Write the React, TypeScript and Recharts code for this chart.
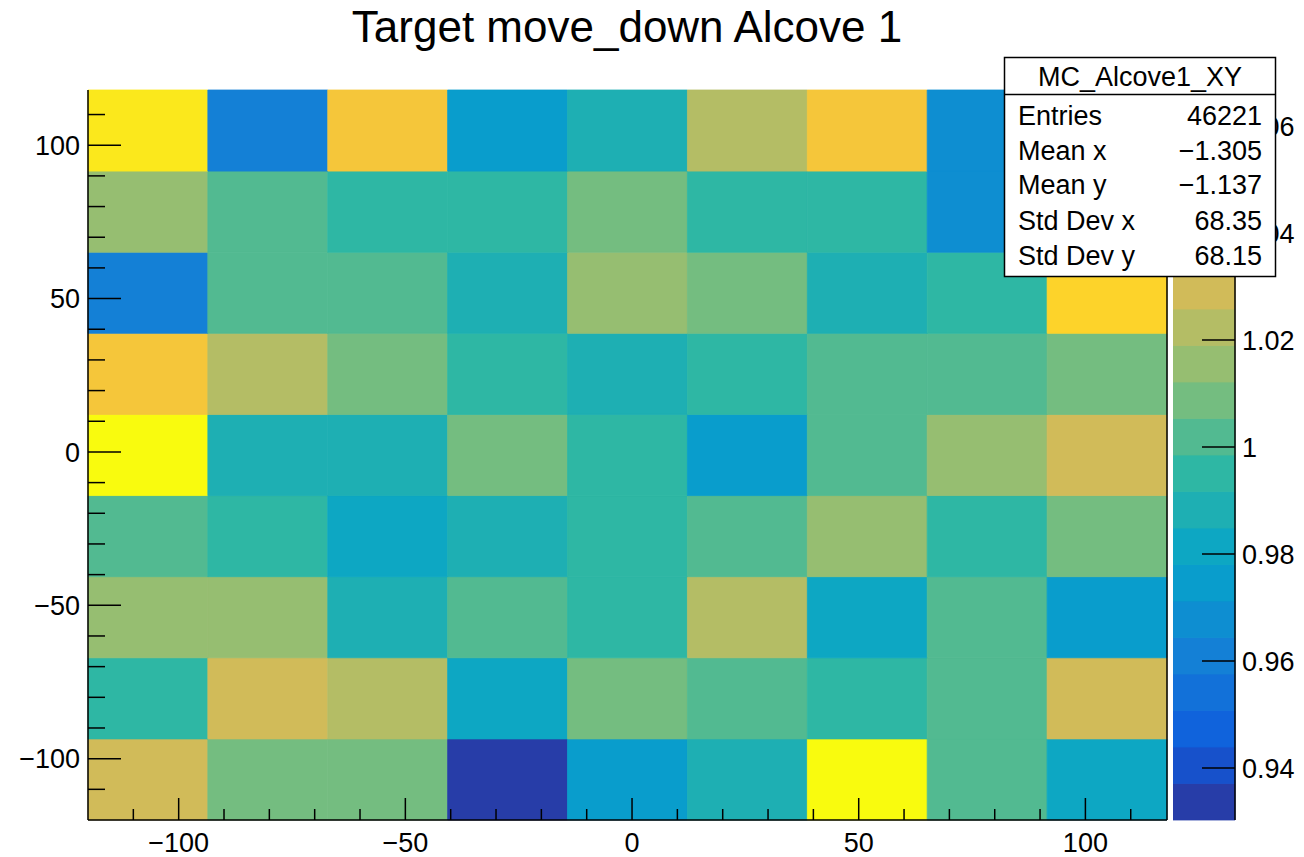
import React from "react";
import { ScatterChart, Scatter, XAxis, YAxis, ReferenceArea, ReferenceLine } from "recharts";

// bin edges (9 x 9 bins)
const xEdges = [-120, -93.56, -67.11, -40.67, -14.22, 12.22, 38.67, 65.11, 91.56, 118];
const yEdges = [-120, -93.56, -67.11, -40.67, -14.22, 12.22, 38.67, 65.11, 91.56, 118];

// bin contents, one array per y bin, bottom row first
const yBin1 = [1.029, 1.009, 1.009, 0.9303, 0.975, 0.988, 1.063, 1.002, 0.981];
const yBin2 = [0.995, 1.029, 1.022, 0.981, 1.009, 1.002, 0.995, 1.002, 1.029];
const yBin3 = [1.016, 1.015, 0.988, 1.002, 0.995, 1.022, 0.981, 1.001, 0.975];
const yBin4 = [1.002, 0.995, 0.981, 0.988, 0.996, 1.002, 1.016, 0.995, 1.009];
const yBin5 = [1.0667, 0.988, 0.989, 1.009, 0.995, 0.975, 1.002, 1.016, 1.029];
const yBin6 = [1.043, 1.022, 1.009, 0.995, 0.988, 0.996, 1.002, 1.001, 1.01];
const yBin7 = [0.961, 1.002, 1.001, 0.988, 1.016, 1.009, 0.987, 0.995, 1.05];
const yBin8 = [1.016, 1.002, 0.995, 0.994, 1.009, 0.996, 0.995, 0.969, 1.003];
const yBin9 = [1.056, 0.961, 1.043, 0.975, 0.988, 1.022, 1.044, 0.968, 0.996];
const rows = [yBin1, yBin2, yBin3, yBin4, yBin5, yBin6, yBin7, yBin8, yBin9];

const xTicks = [-110, -100, -90, -80, -70, -60, -50, -40, -30, -20, -10, 0, 10, 20, 30, 40, 50, 60, 70, 80, 90, 100, 110];
const yTicks = [-110, -100, -90, -80, -70, -60, -50, -40, -30, -20, -10, 0, 10, 20, 30, 40, 50, 60, 70, 80, 90, 100, 110];
const zTicks = [0.94, 0.96, 0.98, 1, 1.02, 1.04, 1.06];

const statLabels = ["Entries", "Mean x", "Mean y", "Std Dev x", "Std Dev y"];
const statValues = ["46221", "\u22121.305", "\u22121.137", "68.35", "68.15"];

// ROOT kBird palette
const birdR = [0.2082, 0.0592, 0.078, 0.0232, 0.1802, 0.5301, 0.8186, 0.9956, 0.9764];
const birdG = [0.1664, 0.3599, 0.5041, 0.6419, 0.7178, 0.7492, 0.7328, 0.7862, 0.9832];
const birdB = [0.5293, 0.8684, 0.8385, 0.7914, 0.6425, 0.4662, 0.3499, 0.1968, 0.0539];
const NCONT = 20;

const FONT = "'Liberation Sans', Arial, Helvetica, sans-serif";

function bird(t: number) {
  const p = Math.max(0, Math.min(1, t)) * 8;
  const i = Math.min(7, Math.floor(p));
  const f = p - i;
  const c = (a: number[]) => Math.round(255 * (a[i] + (a[i + 1] - a[i]) * f));
  return `rgb(${c(birdR)},${c(birdG)},${c(birdB)})`;
}

function levelColor(level: number) {
  const k = Math.min(254, Math.floor(0.01 + ((level + 0.99) * 255) / NCONT));
  return bird(k / 254);
}

const allValues = rows.flat();
const zMin = Math.min(...allValues);
const zMax = Math.max(...allValues);

function cellColor(v: number) {
  const lv = Math.floor(((v - zMin) / (zMax - zMin)) * NCONT);
  return levelColor(Math.max(0, Math.min(NCONT - 1, lv)));
}

const cells = rows.flatMap((row, j) =>
  row.map((v, i) => ({
    x: (xEdges[i] + xEdges[i + 1]) / 2,
    y: (yEdges[j] + yEdges[j + 1]) / 2,
    x1: xEdges[i],
    x2: xEdges[i + 1],
    y1: yEdges[j],
    y2: yEdges[j + 1],
    v,
  }))
);

const bands = Array.from({ length: NCONT }, (_, i) => ({
  y1: zMin + ((zMax - zMin) * i) / NCONT,
  y2: zMin + ((zMax - zMin) * (i + 1)) / NCONT,
  color: levelColor(i),
}));

const fmt = (v: number) => (v < 0 ? `\u2212${Math.abs(v)}` : `${v}`);

const XTick = (props: any) => {
  const { x, y, payload } = props;
  const major = payload.value % 50 === 0;
  return (
    <g>
      <line x1={x} x2={x} y1={y} y2={y - (major ? 22 : 11)} stroke="#000" strokeWidth={1.5} />
      {major && (
        <text x={x} y={y + 32} textAnchor="middle" fontSize={27} fontFamily={FONT} fill="#000">
          {fmt(payload.value)}
        </text>
      )}
    </g>
  );
};

const YTick = (props: any) => {
  const { x, y, payload } = props;
  const major = payload.value % 50 === 0;
  return (
    <g>
      <line x1={x} x2={x + (major ? 33 : 17)} y1={y} y2={y} stroke="#000" strokeWidth={1.5} />
      {major && (
        <text x={x - 8} y={y} dy="0.36em" textAnchor="end" fontSize={27} fontFamily={FONT} fill="#000">
          {fmt(payload.value)}
        </text>
      )}
    </g>
  );
};

const ZTick = (props: any) => {
  const { x, y, payload } = props;
  return (
    <g>
      <line x1={x - 33} x2={x} y1={y} y2={y} stroke="#000" strokeWidth={1.5} />
      <text x={x + 7} y={y} dy="0.36em" textAnchor="start" fontSize={27} fontFamily={FONT} fill="#000">
        {String(payload.value)}
      </text>
    </g>
  );
};

const statBaselines = [125, 160, 194, 230, 265];

export default function App() {
  return (
    <div style={{ position: "absolute", left: 0, top: 0, width: 1304, height: 857, background: "#fff" }}>
      <div style={{ position: "absolute", left: 0, top: 0 }}>
        <ScatterChart width={1304} height={857} margin={{ top: 90, right: 137, bottom: 0, left: 28 }}>
          <XAxis
            type="number"
            dataKey="x"
            domain={[-120, 118]}
            ticks={xTicks}
            interval={0}
            height={37}
            tickSize={0}
            tickMargin={0}
            tickLine={false}
            axisLine={{ stroke: "#000", strokeWidth: 1.5 }}
            tick={<XTick />}
            allowDataOverflow
          />
          <YAxis
            type="number"
            dataKey="y"
            domain={[-120, 118]}
            ticks={yTicks}
            interval={0}
            width={60}
            tickSize={0}
            tickMargin={0}
            tickLine={false}
            axisLine={{ stroke: "#000", strokeWidth: 1.5 }}
            tick={<YTick />}
            allowDataOverflow
          />
          {cells.map((c, k) => (
            <ReferenceArea
              key={k}
              x1={c.x1}
              x2={c.x2}
              y1={c.y1}
              y2={c.y2}
              fill={cellColor(c.v)}
              fillOpacity={1}
              stroke={cellColor(c.v)}
              strokeWidth={0.8}
              ifOverflow="visible"
            />
          ))}
          <ReferenceLine x={118} stroke="#000" strokeWidth={1.5} ifOverflow="visible" />
          <Scatter data={cells} isAnimationActive={false} shape={() => <g />} />
        </ScatterChart>
      </div>
      <div style={{ position: "absolute", left: 1173, top: 0 }}>
        <ScatterChart width={131} height={857} margin={{ top: 90, right: 0, bottom: 37, left: 0 }}>
          <XAxis type="number" dataKey="x" domain={[0, 1]} hide />
          <YAxis
            type="number"
            dataKey="y"
            orientation="right"
            domain={[zMin, zMax]}
            ticks={zTicks}
            interval={0}
            width={69}
            tickSize={0}
            tickMargin={0}
            tickLine={false}
            axisLine={{ stroke: "#000", strokeWidth: 1.5 }}
            tick={<ZTick />}
            allowDataOverflow
          />
          {bands.map((b, k) => (
            <ReferenceArea
              key={k}
              x1={0}
              x2={1}
              y1={b.y1}
              y2={b.y2}
              fill={b.color}
              fillOpacity={1}
              stroke={b.color}
              strokeWidth={0.8}
              ifOverflow="visible"
            />
          ))}
          <Scatter
            data={bands.map((b) => ({ x: 0.5, y: (b.y1 + b.y2) / 2 }))}
            isAnimationActive={false}
            shape={() => <g />}
          />
        </ScatterChart>
      </div>
      <svg
        width={1304}
        height={857}
        style={{ position: "absolute", left: 0, top: 0, pointerEvents: "none" }}
        fontFamily={FONT}
      >
        <text x={627} y={42} textAnchor="middle" fontSize={44} fill="#000">
          Target move_down Alcove 1
        </text>
        <rect x={1004.5} y={57.5} width={271} height={219} fill="#fff" stroke="#000" strokeWidth={1.5} />
        <line x1={1004} x2={1276} y1={94.5} y2={94.5} stroke="#000" strokeWidth={1.5} />
        <text x={1140} y={86} textAnchor="middle" fontSize={27} fill="#000">
          MC_Alcove1_XY
        </text>
        {statLabels.map((l, i) => (
          <g key={l}>
            <text x={1018} y={statBaselines[i]} fontSize={27} fill="#000">
              {l}
            </text>
            <text x={1262} y={statBaselines[i]} textAnchor="end" fontSize={27} fill="#000">
              {statValues[i]}
            </text>
          </g>
        ))}
      </svg>
    </div>
  );
}
